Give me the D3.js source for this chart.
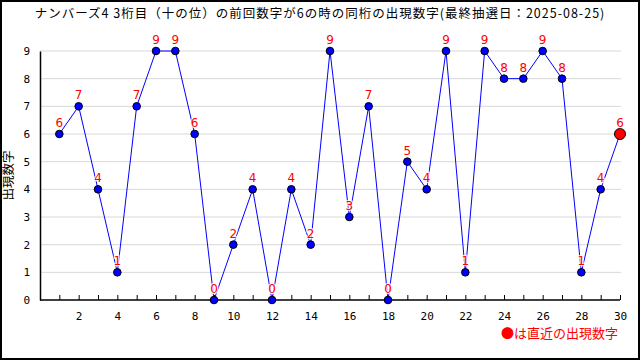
<!DOCTYPE html>
<html>
<head>
<meta charset="utf-8">
<script src="https://cdn.jsdelivr.net/npm/d3@7"></script>
<style>
  body { margin: 0; background: #fff; }
  svg { display: block; }
</style>
</head>
<body>
<svg id="chart" width="640" height="360"></svg>
<script>
const title = "ナンバーズ4 3桁目（十の位）の前回数字が6の時の同桁の出現数字(最終抽選日：2025-08-25)";
const draws = d3.range(1, 31);
const digits = [6, 7, 4, 1, 7, 9, 9, 6, 0, 2, 4, 0, 4, 2, 9, 3, 7, 0, 5, 4, 9, 1, 9, 8, 8, 9, 8, 1, 4, 6];
const yTicks = [0, 1, 2, 3, 4, 5, 6, 7, 8, 9];
const xTicks = [2, 4, 6, 8, 10, 12, 14, 16, 18, 20, 22, 24, 26, 28, 30];

const font = "'Noto Sans CJK JP', 'DejaVu Sans', sans-serif";
const svg = d3.select("#chart");
const width = 640, height = 360;
const margin = { top: 51, right: 20, bottom: 60, left: 40 };
const innerWidth = width - margin.left - margin.right;
const innerHeight = height - margin.top - margin.bottom;

// frame
svg.append("rect")
    .attr("x", 1).attr("y", 1)
    .attr("width", width - 2).attr("height", height - 2)
    .attr("fill", "#fff").attr("stroke", "#000").attr("stroke-width", 2);

svg.append("text")
    .attr("x", width / 2).attr("y", 18)
    .attr("text-anchor", "middle")
    .attr("font-family", font).attr("font-size", 12.5)
    .attr("letter-spacing", 1)
    .text(title);

const g = svg.append("g")
    .attr("transform", `translate(${margin.left},${margin.top})`);

const x = d3.scaleLinear().domain([0, 30]).range([0, innerWidth]);
const y = d3.scaleLinear().domain([0, 9]).range([innerHeight, 0]);

// GRID
g.selectAll(".grid")
    .data(yTicks.filter(d => d > 0))
    .enter().append("line")
    .attr("x1", 0).attr("x2", innerWidth + 1)
    .attr("y1", d => y(d)).attr("y2", d => y(d))
    .attr("stroke", "#d8d8d8");

// X AXIS: minor ticks every draw, labels on even
const xAxis = g.append("g")
    .attr("transform", `translate(0,${innerHeight})`)
    .call(d3.axisBottom(x).tickValues(draws).tickSize(-5).tickPadding(12)
        .tickFormat(d => xTicks.includes(d) ? d : ""));
xAxis.select(".domain").attr("stroke", "#000").attr("stroke-width", 1.5)
    .attr("d", `M0,0H${innerWidth}`);
xAxis.selectAll("text").filter(d => !xTicks.includes(d)).remove();
xAxis.selectAll("text").attr("font-family", "'DejaVu Sans Mono', monospace").attr("font-size", 11).attr("fill", "#000");

// Y AXIS
const yAxis = g.append("g")
    .call(d3.axisLeft(y).tickValues(yTicks).tickSize(0).tickPadding(10));
yAxis.select(".domain").attr("stroke", "#000").attr("stroke-width", 1.5);
yAxis.selectAll("text").attr("font-family", "'DejaVu Sans Mono', monospace").attr("font-size", 11).attr("fill", "#000");

svg.append("text")
    .attr("transform", `translate(13,${margin.top + innerHeight / 2}) rotate(-90)`)
    .attr("text-anchor", "middle")
    .attr("font-family", font).attr("font-size", 12.5)
    .text("出現数字");

const data = draws.map((d, i) => ({ draw: d, digit: digits[i] }));

// LINE
g.append("path")
    .datum(data)
    .attr("fill", "none")
    .attr("stroke", "#0000ff")
    .attr("stroke-width", 1)
    .attr("d", d3.line().x(d => x(d.draw)).y(d => y(d.digit)));

// DOTS
const last = data.length - 1;
g.selectAll(".dot")
    .data(data)
    .enter().append("circle")
    .attr("cx", d => x(d.draw))
    .attr("cy", d => y(d.digit))
    .attr("r", (d, i) => i === last ? 5.5 : 3.8)
    .attr("fill", (d, i) => i === last ? "#ff0000" : "#0000ff")
    .attr("stroke", "#000")
    .attr("stroke-width", 1);

// LABELS (drawn on top)
g.selectAll(".lbl")
    .data(data)
    .enter().append("text")
    .attr("x", d => x(d.draw))
    .attr("y", d => y(d.digit) - 7)
    .attr("text-anchor", "middle")
    .attr("font-family", "'DejaVu Sans', sans-serif").attr("font-size", 12)
    .attr("fill", "#ff0000")
    .attr("stroke", "#fff").attr("stroke-width", 2.5).attr("paint-order", "stroke")
    .attr("stroke-opacity", 0.8)
    .text(d => d.digit);

// LEGEND
svg.append("text")
    .attr("x", 618).attr("y", 338)
    .attr("text-anchor", "end")
    .attr("font-family", font).attr("font-size", 13)
    .attr("fill", "#ff0000")
    .text("●は直近の出現数字");
</script>
</body>
</html>
